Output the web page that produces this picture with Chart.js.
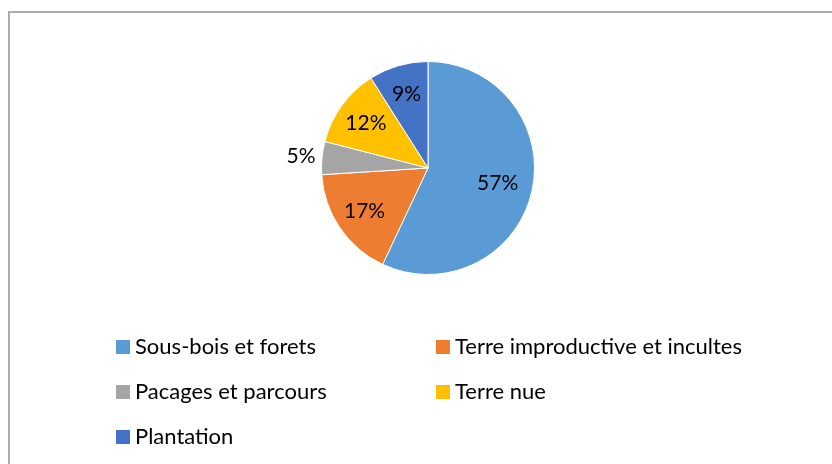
<!DOCTYPE html>
<html>
<head>
<meta charset="utf-8">
<script src="https://cdn.jsdelivr.net/npm/chart.js@4.4.1/dist/chart.umd.min.js"></script>
<style>
  html, body { margin: 0; padding: 0; background: #ffffff; }
  #wrap { position: relative; width: 832px; height: 464px; overflow: hidden; background: #fff; }
  #frame { position: absolute; left: 8px; top: 11px; width: 900px; height: 600px; border: 2px solid #ababab; box-sizing: border-box; }
  #c { position: absolute; left: 0; top: 0; }
  .lg { position: absolute; font-family: Lato, "Open Sans", sans-serif; font-size: 22px; line-height: 22px; color: #000; white-space: nowrap; }
  .mk { position: absolute; width: 14px; height: 14px; }
</style>
</head>
<body>
<div id="wrap">
  <div id="frame"></div>
  <canvas id="c" width="832" height="464"></canvas>
  <div id="legend"></div>
</div>
<script>
// ---- data ----
const categories = ["Sous-bois et forets", "Terre improductive et incultes", "Pacages et parcours", "Terre nue", "Plantation"];
const shares = [57, 17, 5, 12, 9];
const sliceColors = ["#5B9BD5", "#ED7D31", "#A5A5A5", "#FFC000", "#4472C4"];

// ---- data labels plugin ----
const pieLabels = {
  id: 'pieLabels',
  afterDatasetsDraw(chart) {
    const ctx = chart.ctx;
    const meta = chart.getDatasetMeta(0);
    ctx.save();
    ctx.font = '21px Lato, "Open Sans", sans-serif';
    ctx.fillStyle = '#000';
    ctx.textAlign = 'center';
    ctx.textBaseline = 'middle';
    meta.data.forEach((arc, i) => {
      const p = arc.getProps(['x', 'y', 'startAngle', 'endAngle', 'outerRadius'], true);
      const mid = (p.startAngle + p.endAngle) / 2;
      const v = chart.data.datasets[0].data[i];
      const r = v < 6 ? p.outerRadius + 21 : p.outerRadius * (v > 50 ? 0.67 : 0.72);
      ctx.fillText(v + '%', p.x + Math.cos(mid) * r, p.y + Math.sin(mid) * r);
    });
    ctx.restore();
  }
};

new Chart(document.getElementById('c'), {
  type: 'pie',
  data: {
    labels: categories,
    datasets: [{
      data: shares,
      backgroundColor: sliceColors,
      borderColor: '#ffffff',
      borderWidth: 1
    }]
  },
  options: {
    responsive: false,
    animation: false,
    layout: { padding: { left: 321, right: 297, top: 61, bottom: 189 } },
    plugins: {
      legend: { display: false },
      tooltip: { enabled: false }
    }
  },
  plugins: [pieLabels]
});

// ---- HTML legend (2 columns) ----
const legend = document.getElementById('legend');
const colX = [116, 436];
const rowY = [347, 392, 437];
categories.forEach((name, i) => {
  const col = i % 2, row = Math.floor(i / 2);
  const mk = document.createElement('div');
  mk.className = 'mk';
  mk.style.background = sliceColors[i];
  mk.style.left = colX[col] + 'px';
  mk.style.top = (rowY[row] - 7) + 'px';
  legend.appendChild(mk);
  const t = document.createElement('div');
  t.className = 'lg';
  t.textContent = name;
  t.style.left = (colX[col] + 19) + 'px';
  t.style.top = (rowY[row] - 12) + 'px';
  legend.appendChild(t);
});
</script>
</body>
</html>
